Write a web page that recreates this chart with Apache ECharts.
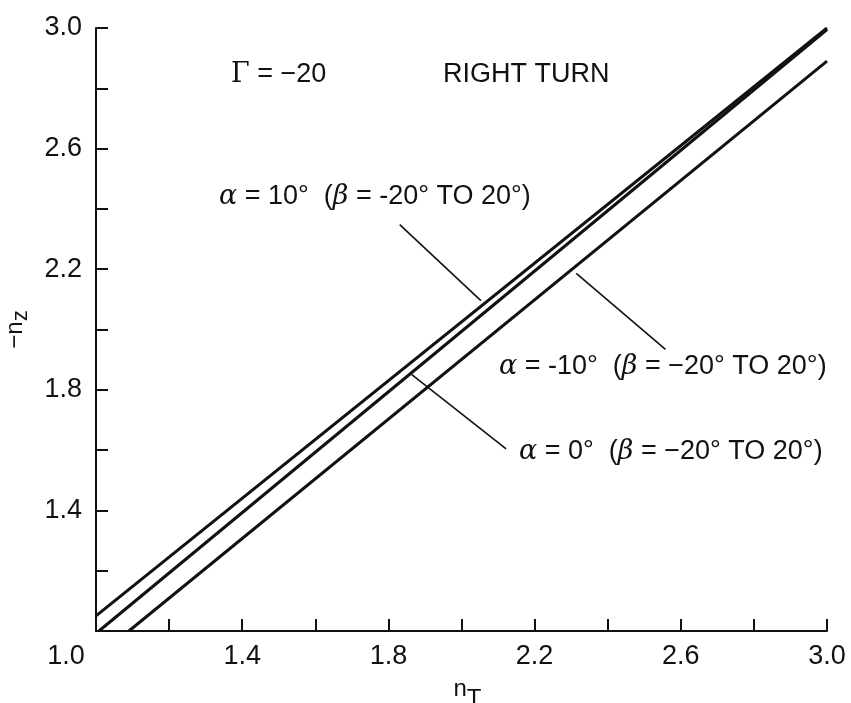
<!DOCTYPE html>
<html>
<head>
<meta charset="utf-8">
<script src="https://cdn.jsdelivr.net/npm/echarts@6/dist/echarts.min.js"></script>
<style>
  html, body { margin: 0; padding: 0; background: #fff; }
  #chart { width: 851px; height: 703px; }
</style>
</head>
<body>
<div id="chart"></div>
<script>
// ---- data ----
const lineAlpha10  = [[1.0, 1.05], [3.0, 3.0]];     // alpha = 10 deg
const lineAlpha0   = [[1.008, 1.0], [3.0, 2.995]];  // alpha = 0 deg
const lineAlphaM10 = [[1.09, 1.0], [3.0, 2.89]];    // alpha = -10 deg
const leaderAlpha10  = [[1.831, 2.348], [2.053, 2.096]];
const leaderAlphaM10 = [[2.314, 2.186], [2.558, 1.934]];
const leaderAlpha0   = [[1.864, 1.850], [2.122, 1.604]];
const xTickLabels = ['1.0', '1.4', '1.8', '2.2', '2.6', '3.0'];
const yTickLabels = ['1.4', '1.8', '2.2', '2.6', '3.0'];
const labelAlpha10  = ['α', ' = 10°  (', 'β', ' = -20° TO 20°)'];
const labelAlphaM10 = ['α', ' = -10°  (', 'β', ' = −20° TO 20°)'];
const labelAlpha0   = ['α', ' = 0°  (', 'β', ' = −20° TO 20°)'];

const FONT = '"Liberation Sans", Arial, Helvetica, sans-serif';
const SERIF = '"DejaVu Serif", "Liberation Serif", serif';
const FS = 27;

function alphaText(parts) {
  return '{g|' + parts[0] + '}' + parts[1] + '{g|' + parts[2] + '}' + parts[3];
}
const annRich = {
  g: { fontFamily: SERIF, fontStyle: 'italic', fontSize: FS, fill: '#111' }
};

const chart = echarts.init(document.getElementById('chart'));

function mainLine(data) {
  return { type: 'line', data: data, symbol: 'none', silent: true,
    lineStyle: { color: '#111', width: 3 }, z: 3 };
}
function leader(data) {
  return { type: 'line', data: data, symbol: 'none', silent: true,
    lineStyle: { color: '#111', width: 1.6 }, z: 2 };
}
function annotation(x, y, text, rich) {
  return { type: 'text', x: x, y: y, silent: true,
    style: { text: text, fontSize: FS, fontFamily: FONT, fill: '#111',
      verticalAlign: 'middle', align: 'left', rich: rich } };
}

chart.setOption({
  animation: false,
  backgroundColor: '#fff',
  grid: { left: 96, right: 24, top: 28, bottom: 72, containLabel: false, outerBoundsMode: 'none' },
  xAxis: {
    type: 'value', min: 1.0, max: 3.0, interval: 0.2,
    axisLine: { onZero: false, lineStyle: { color: '#111', width: 2 } },
    axisTick: { inside: true, length: 12, lineStyle: { color: '#111', width: 2 } },
    splitLine: { show: false },
    axisLabel: {
      margin: 12, color: '#111', fontSize: FS, fontFamily: FONT,
      showMinLabel: true, showMaxLabel: true,
      formatter: function (v) {
        const s = v.toFixed(1);
        if (!xTickLabels.includes(s)) return '';
        if (s === '1.0') return '{o|' + s + '}';
        return s;
      },
      rich: { o: { fontSize: FS, fontFamily: FONT, color: '#111', padding: [0, 60, 0, 0] } }
    },
    name: '{n|n}{s|T}', nameLocation: 'middle', nameGap: 44,
    nameTextStyle: {
      padding: [0, 0, 0, 12],
      rich: {
        n: { fontSize: 24, fontFamily: FONT, color: '#111', padding: [0, 0, 8, 0] },
        s: { fontSize: 24, fontFamily: FONT, color: '#111', padding: [12, 0, 0, 0] }
      }
    }
  },
  yAxis: {
    type: 'value', min: 1.0, max: 3.0, interval: 0.2,
    axisLine: { onZero: false, lineStyle: { color: '#111', width: 2 } },
    axisTick: { inside: true, length: 12, lineStyle: { color: '#111', width: 2 } },
    splitLine: { show: false },
    axisLabel: {
      margin: 14, color: '#111', fontSize: FS, fontFamily: FONT,
      showMaxLabel: true,
      formatter: function (v) {
        const s = v.toFixed(1);
        return yTickLabels.includes(s) ? s : '';
      }
    },
    name: '−n{s|z}', nameLocation: 'middle', nameGap: 64, nameRotate: 90,
    nameTextStyle: {
      fontSize: 24, fontFamily: FONT, color: '#111',
      rich: { s: { fontSize: 22, fontFamily: FONT, color: '#111', padding: [12, 0, 0, 0] } }
    }
  },
  series: [
    mainLine(lineAlpha10),
    mainLine(lineAlpha0),
    mainLine(lineAlphaM10),
    leader(leaderAlpha10),
    leader(leaderAlphaM10),
    leader(leaderAlpha0)
  ],
  graphic: [
    annotation(231, 75, '{g|Γ} = −20', { g: { fontFamily: SERIF, fontSize: FS, fill: '#111' } }),
    annotation(443, 75, 'RIGHT TURN'),
    annotation(219, 197, alphaText(labelAlpha10), annRich),
    annotation(499, 367, alphaText(labelAlphaM10), annRich),
    annotation(519, 452, alphaText(labelAlpha0), annRich)
  ]
});
</script>
</body>
</html>
